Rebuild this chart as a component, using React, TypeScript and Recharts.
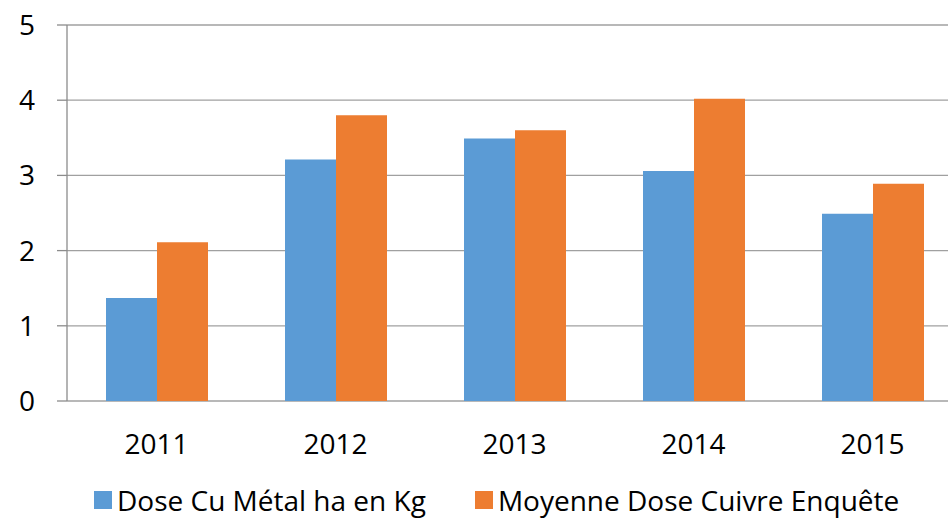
import React from 'react';
import { BarChart, Bar, XAxis, YAxis, CartesianGrid, Legend } from 'recharts';

const years = ['2011', '2012', '2013', '2014', '2015'];
const doseCuMetal = [1.37, 3.21, 3.49, 3.06, 2.49];
const moyenneDose = [2.11, 3.8, 3.6, 4.02, 2.89];
const yTicks = [0, 1, 2, 3, 4, 5];
const edgeTicks = [0, 1, 2, 3, 4, 5];

const seriesNames = ['Dose Cu Métal ha en Kg', 'Moyenne Dose Cuivre Enquête'];
const seriesColors = ['#5b9bd5', '#ed7d31'];

const data = years.map((year, i) => ({
  year,
  dose: doseCuMetal[i],
  moyenne: moyenneDose[i],
}));

const FONT = '"Open Sans", sans-serif';

function LegendContent() {
  return (
    <div
      style={{
        display: 'flex',
        justifyContent: 'flex-start',
        alignItems: 'center',
        paddingLeft: 94,
        paddingTop: 24,
        fontFamily: FONT,
        fontSize: 28,
        color: '#000',
        lineHeight: '30px',
      }}
    >
      {seriesNames.map((name, i) => (
        <div
          key={name}
          style={{ display: 'flex', alignItems: 'center', marginRight: i === 0 ? 49 : 0 }}
        >
          <span
            style={{
              display: 'inline-block',
              width: 18,
              height: 18,
              background: seriesColors[i],
              marginRight: 5,
            }}
          />
          <span>{name}</span>
        </div>
      ))}
    </div>
  );
}

export default function App() {
  return (
    <div
      style={{
        position: 'absolute',
        left: 0,
        top: 0,
        width: 948,
        height: 518,
        overflow: 'hidden',
        background: '#fff',
      }}
    >
      <BarChart
        width={966}
        height={518}
        data={data}
        margin={{ top: 25, right: 4, left: 0, bottom: 0 }}
        barGap={0}
        barSize={51}
        style={{ fontFamily: FONT }}
      >
        <CartesianGrid vertical={false} stroke="#a0a0a0" strokeWidth={1.3} />
        <XAxis
          xAxisId="edges"
          type="number"
          domain={[0, 5]}
          ticks={edgeTicks}
          allowDataOverflow
          tick={false}
          tickSize={10}
          height={0}
          axisLine={{ stroke: '#8c8c8c', strokeWidth: 1.3 }}
          tickLine={{ stroke: '#8c8c8c', strokeWidth: 1.3 }}
        />
        <XAxis
          xAxisId="cat"
          dataKey="year"
          axisLine={false}
          tickLine={false}
          tickSize={0}
          tickMargin={33}
          height={60}
          tick={{ fill: '#000', fontSize: 28, fontFamily: FONT }}
        />
        <YAxis
          domain={[0, 5]}
          ticks={yTicks}
          width={67}
          tickSize={10}
          tickMargin={22}
          axisLine={{ stroke: '#8c8c8c', strokeWidth: 1.3 }}
          tickLine={{ stroke: '#8c8c8c', strokeWidth: 1.3 }}
          tick={{ fill: '#000', fontSize: 28, fontFamily: FONT }}
        />
        <Legend verticalAlign="bottom" wrapperStyle={{ height: 57 }} content={<LegendContent />} />
        <Bar xAxisId="cat" dataKey="dose" name={seriesNames[0]} fill={seriesColors[0]} isAnimationActive={false} />
        <Bar xAxisId="cat" dataKey="moyenne" name={seriesNames[1]} fill={seriesColors[1]} isAnimationActive={false} />
      </BarChart>
    </div>
  );
}
